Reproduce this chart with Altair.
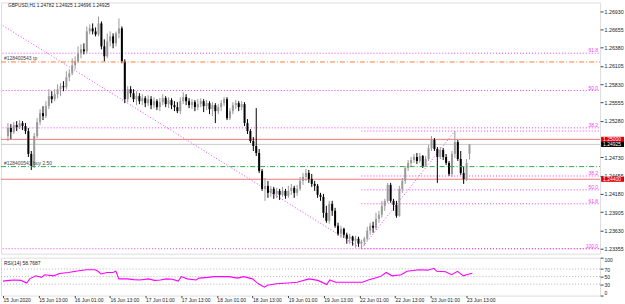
import altair as alt
import pandas as pd

title_text = "GBPUSD,H1  1.24782 1.24925 1.24696 1.24925"
rsi_text = "RSI(14) 58.7687"

opens = [
    1.25050, 1.25170, 1.25110, 1.25215, 1.25185, 1.25245, 1.25200, 1.25125, 1.24780, 1.24600,
    1.25050, 1.25260, 1.25395, 1.25350, 1.25500, 1.25650, 1.25605, 1.25680, 1.25755, 1.25800,
    1.25785, 1.25935, 1.25995, 1.26115, 1.26175, 1.26295, 1.26355, 1.26325, 1.26625, 1.26670,
    1.26625, 1.26580, 1.26745, 1.26400, 1.26250, 1.26475, 1.26550, 1.26445, 1.26595, 1.26670,
    1.26175, 1.25605, 1.25755, 1.25695, 1.25605, 1.25650, 1.25575, 1.25620, 1.25545, 1.25605,
    1.25515, 1.25575, 1.25485, 1.25560, 1.25620, 1.25530, 1.25590, 1.25515, 1.25485, 1.25425,
    1.25575, 1.25635, 1.25575, 1.25515, 1.25560, 1.25485, 1.25530, 1.25575, 1.25500, 1.25545,
    1.25455, 1.25515, 1.25425, 1.25485, 1.25545, 1.25605, 1.25320, 1.25425, 1.25515, 1.25545,
    1.25485, 1.25530, 1.25245, 1.25125, 1.24975, 1.24900, 1.24795, 1.24525, 1.24255, 1.24300,
    1.24195, 1.24255, 1.24180, 1.24225, 1.24165, 1.24225, 1.24150, 1.24225, 1.24270, 1.24195,
    1.24255, 1.24375, 1.24435, 1.24495, 1.24405, 1.24330, 1.24300, 1.24165, 1.24135, 1.23895,
    1.23775, 1.24030, 1.23925, 1.23700, 1.23580, 1.23655, 1.23565, 1.23505, 1.23535, 1.23475,
    1.23505, 1.23430, 1.23460, 1.23505, 1.23625, 1.23700, 1.23670, 1.23805, 1.23865, 1.24000,
    1.24075, 1.24315, 1.24075, 1.24015, 1.23850, 1.24255, 1.24375, 1.24570, 1.24645, 1.24690,
    1.24735, 1.24675, 1.24750, 1.24600, 1.24705, 1.24870, 1.24990, 1.24855, 1.24735, 1.24840,
    1.24735, 1.24645, 1.24480, 1.24780, 1.24960, 1.24705, 1.24495, 1.24405, 1.24782,
]
highs = [
    1.25245, 1.25230, 1.25260, 1.25275, 1.25290, 1.25275, 1.25245, 1.25170, 1.24825, 1.25095,
    1.25320, 1.25455, 1.25500, 1.25575, 1.25755, 1.25725, 1.25755, 1.25830, 1.25845, 1.25875,
    1.26025, 1.26055, 1.26220, 1.26250, 1.26400, 1.26430, 1.26445, 1.26700, 1.26730, 1.26745,
    1.26685, 1.26850, 1.26775, 1.26505, 1.26595, 1.26625, 1.26595, 1.26625, 1.26820, 1.26700,
    1.26205, 1.25800, 1.25800, 1.25755, 1.25725, 1.25695, 1.25680, 1.25650, 1.25665, 1.25650,
    1.25635, 1.25605, 1.25620, 1.25680, 1.25650, 1.25635, 1.25620, 1.25575, 1.25560, 1.25635,
    1.25710, 1.25680, 1.25620, 1.25605, 1.25590, 1.25605, 1.25620, 1.25605, 1.25590, 1.25575,
    1.25560, 1.25545, 1.25530, 1.25590, 1.25635, 1.25635, 1.25470, 1.25560, 1.25590, 1.25575,
    1.25575, 1.25560, 1.25305, 1.25155, 1.25035, 1.25470, 1.24855, 1.24555, 1.24420, 1.24375,
    1.24300, 1.24285, 1.24270, 1.24255, 1.24285, 1.24255, 1.24300, 1.24330, 1.24300, 1.24315,
    1.24435, 1.24495, 1.24555, 1.24540, 1.24480, 1.24375, 1.24330, 1.24195, 1.24180, 1.24000,
    1.24075, 1.24075, 1.23970, 1.23745, 1.23700, 1.23670, 1.23595, 1.23580, 1.23550, 1.23550,
    1.23535, 1.23490, 1.23535, 1.23685, 1.23745, 1.23760, 1.23895, 1.23925, 1.24075, 1.24105,
    1.24345, 1.24345, 1.24105, 1.24075, 1.24300, 1.24420, 1.24600, 1.24690, 1.24735, 1.24780,
    1.24795, 1.24795, 1.24765, 1.24750, 1.24915, 1.25050, 1.25020, 1.24885, 1.24885, 1.24870,
    1.24780, 1.24675, 1.24825, 1.25125, 1.24990, 1.24825, 1.24585, 1.24705, 1.24925,
]
lows = [
    1.24975, 1.25005, 1.25080, 1.25125, 1.25155, 1.25140, 1.25080, 1.24735, 1.24540, 1.24570,
    1.25020, 1.25215, 1.25290, 1.25320, 1.25455, 1.25545, 1.25575, 1.25620, 1.25650, 1.25725,
    1.25755, 1.25875, 1.25965, 1.26055, 1.26145, 1.26220, 1.26280, 1.26295, 1.26580, 1.26580,
    1.26550, 1.26550, 1.26355, 1.26175, 1.26220, 1.26400, 1.26370, 1.26400, 1.26520, 1.26145,
    1.25545, 1.25560, 1.25635, 1.25560, 1.25515, 1.25530, 1.25515, 1.25485, 1.25500, 1.25455,
    1.25470, 1.25440, 1.25425, 1.25515, 1.25485, 1.25470, 1.25455, 1.25425, 1.25395, 1.25380,
    1.25530, 1.25515, 1.25470, 1.25455, 1.25425, 1.25440, 1.25485, 1.25410, 1.25440, 1.25380,
    1.25350, 1.25245, 1.25380, 1.25425, 1.25500, 1.25290, 1.25290, 1.25380, 1.25455, 1.25425,
    1.25440, 1.25200, 1.25080, 1.24945, 1.24825, 1.24750, 1.24495, 1.24225, 1.24075, 1.24120,
    1.24135, 1.24105, 1.24120, 1.24090, 1.24135, 1.24105, 1.24120, 1.24165, 1.24120, 1.24150,
    1.24225, 1.24315, 1.24375, 1.24345, 1.24285, 1.24225, 1.24120, 1.24075, 1.23820, 1.23745,
    1.23730, 1.23850, 1.23670, 1.23550, 1.23520, 1.23520, 1.23430, 1.23430, 1.23400, 1.23370,
    1.23385, 1.23355, 1.23400, 1.23475, 1.23565, 1.23595, 1.23640, 1.23745, 1.23820, 1.23925,
    1.24045, 1.24045, 1.23925, 1.23820, 1.23835, 1.24195, 1.24330, 1.24525, 1.24585, 1.24645,
    1.24630, 1.24645, 1.24570, 1.24585, 1.24675, 1.24825, 1.24825, 1.24345, 1.24705, 1.24690,
    1.24615, 1.24450, 1.24435, 1.24720, 1.24675, 1.24465, 1.24330, 1.24375, 1.24696,
]
closes = [
    1.25170, 1.25110, 1.25215, 1.25185, 1.25245, 1.25200, 1.25125, 1.24780, 1.24600, 1.25050,
    1.25260, 1.25395, 1.25350, 1.25500, 1.25650, 1.25605, 1.25680, 1.25755, 1.25800, 1.25785,
    1.25935, 1.25995, 1.26115, 1.26175, 1.26295, 1.26355, 1.26325, 1.26625, 1.26670, 1.26625,
    1.26580, 1.26745, 1.26400, 1.26250, 1.26475, 1.26550, 1.26445, 1.26595, 1.26670, 1.26175,
    1.25605, 1.25755, 1.25695, 1.25605, 1.25650, 1.25575, 1.25620, 1.25545, 1.25605, 1.25515,
    1.25575, 1.25485, 1.25560, 1.25620, 1.25530, 1.25590, 1.25515, 1.25485, 1.25425, 1.25575,
    1.25635, 1.25575, 1.25515, 1.25560, 1.25485, 1.25530, 1.25575, 1.25500, 1.25545, 1.25455,
    1.25515, 1.25425, 1.25485, 1.25545, 1.25605, 1.25320, 1.25425, 1.25515, 1.25545, 1.25485,
    1.25530, 1.25245, 1.25125, 1.24975, 1.24900, 1.24795, 1.24525, 1.24255, 1.24300, 1.24195,
    1.24255, 1.24180, 1.24225, 1.24165, 1.24225, 1.24150, 1.24225, 1.24270, 1.24195, 1.24255,
    1.24375, 1.24435, 1.24495, 1.24405, 1.24330, 1.24300, 1.24165, 1.24135, 1.23895, 1.23775,
    1.24030, 1.23925, 1.23700, 1.23580, 1.23655, 1.23565, 1.23505, 1.23535, 1.23475, 1.23505,
    1.23430, 1.23460, 1.23505, 1.23625, 1.23700, 1.23670, 1.23805, 1.23865, 1.24000, 1.24075,
    1.24315, 1.24075, 1.24015, 1.23850, 1.24255, 1.24375, 1.24570, 1.24645, 1.24690, 1.24735,
    1.24675, 1.24750, 1.24600, 1.24705, 1.24870, 1.24990, 1.24855, 1.24735, 1.24840, 1.24735,
    1.24645, 1.24480, 1.24780, 1.24960, 1.24705, 1.24495, 1.24405, 1.24645, 1.24925,
]

time_tick_bars = [0, 12, 24, 36, 48, 60, 72, 84, 96, 108, 120, 132, 144, 156]
time_tick_labels = ["15 Jun 2020", "15 Jun 13:00", "16 Jun 01:00", "16 Jun 13:00",
                    "17 Jun 01:00", "17 Jun 13:00", "18 Jun 01:00", "18 Jun 13:00",
                    "19 Jun 01:00", "19 Jun 13:00", "22 Jun 01:00", "22 Jun 13:00",
                    "23 Jun 01:00", "23 Jun 13:00"]
# 1.25005 is hidden under the red 1.25000 price tag in the reference
price_ticks = [1.23355, 1.23630, 1.23905, 1.24180, 1.24455, 1.24730,
               1.25280, 1.25555, 1.25830, 1.26105, 1.26380, 1.26655, 1.26930]

rsi_bars = [0, 2, 4, 6, 8, 9, 11, 13, 14, 17, 19, 22, 25, 28, 31, 32, 33, 35, 37, 38,
            39, 42, 44, 46, 49, 51, 53, 55, 57, 59, 60, 62, 65, 66, 69, 71, 76, 79, 81, 84,
            86, 88, 89, 92, 96, 99, 103, 106, 109, 110, 112, 121, 123, 127, 129, 131, 134, 136, 140, 143,
            145, 146, 149, 151, 153, 155, 156, 158]
rsi_values = [38, 40, 41, 40, 33, 44, 52, 48, 55, 52, 58, 61, 65, 68, 68, 64, 57, 61, 61, 64,
              44, 44, 42, 41, 44, 40, 41, 44, 43, 38, 50, 44, 41, 46, 48, 50, 50, 46, 50, 44,
              31, 22, 27, 31, 33, 35, 44, 40, 29, 41, 35, 35, 41, 50, 61, 52, 55, 64, 68, 67,
              72, 64, 63, 55, 64, 52, 55, 58.77]
rsi_levels = [70, 50, 30]
rsi_ticks = [0, 30, 50, 70, 100]

# Fibonacci retracements (anchors)
fib1_high_bar, fib1_high = -53, 1.28115
fib1_low_bar, fib1_low = 121, 1.23355
fib1_ratios = [0.0, 38.2, 50.0, 61.8]
fib1_labels = ["", "38.2", "50.0", "61.8"]
fib2_low_bar, fib2_low = 121, 1.23355
fib2_high_bar, fib2_high = 153, 1.25125
fib2_ratios = [0.0, 38.2, 50.0, 61.8, 100.0]
fib2_labels = ["", "38.2", "50.0", "61.8", "100.0"]

tp_price, tp_label = 1.26165, "#128400543 tp"
buy_price, buy_label = 1.24590, "#128400543 buy 2.50"
red_levels = [1.25000, 1.24400]
bid_price = 1.24925
tag_prices = [1.25000, 1.24925, 1.24400]
tag_texts = ["1.25000", "1.24925", "1.24400"]
tag_colors = ["#e3000f", "#000000", "#e3000f"]

# ---------------------------------------------------------------
W, H, HR = 601, 252, 38
MAG = "#f040f0"
FONT = "Liberation Sans"

xsc = alt.Scale(domain=[-0.67, 201.0], nice=False, zero=False)
ysc = alt.Scale(domain=[1.23280, 1.27060], nice=False, zero=False)
yax = alt.Axis(orient="right", values=price_ticks, format=".5f", tickSize=3,
               labelFontSize=5.3, labelPadding=1, grid=False, domain=False,
               labelColor="#222", tickColor="#444", labelOverlap=False, title=None,
               labelFont=FONT)


def X(f="bar"):
    return alt.X(f"{f}:Q", scale=xsc, axis=None, title=None)


def Y(f):
    return alt.Y(f"{f}:Q", scale=ysc, axis=yax, title=None)


n = len(opens)
cdf = pd.DataFrame(dict(bar=list(range(n)), open=opens, high=highs, low=lows, close=closes))
cdf["dir"] = ["up" if c >= o else "down" for o, c in zip(opens, closes)]
col = alt.Color("dir:N", scale=alt.Scale(domain=["up", "down"], range=["#9a9a9a", "#000000"]),
                legend=None)

wicks = alt.Chart(cdf).mark_rule(strokeWidth=1).encode(x=X(), y=Y("low"), y2="high", color=col)
bodies = alt.Chart(cdf).mark_bar(size=2).encode(x=X(), y=Y("open"), y2="close", color=col)

f1 = pd.DataFrame({
    "price": [fib1_low + r / 100.0 * (fib1_high - fib1_low) for r in fib1_ratios],
    "start": [fib1_high_bar] * len(fib1_ratios),
    "label": fib1_labels,
})
f2 = pd.DataFrame({
    "price": [fib2_high - r / 100.0 * (fib2_high - fib2_low) for r in fib2_ratios],
    "start": [fib2_low_bar] * len(fib2_ratios),
    "label": fib2_labels,
})
fib_rules = [
    alt.Chart(d).mark_rule(color=MAG, strokeDash=[1, 2], strokeWidth=1, clip=True)
    .encode(x=X("start"), x2=alt.value(W), y=Y("price"))
    for d in (f1, f2)
]
fib_texts = [
    alt.Chart(d).mark_text(align="right", baseline="bottom", fontSize=5, color=MAG, font=FONT)
    .encode(x=alt.value(W - 2), y=Y("price"), text="label:N")
    for d in (f1, f2)
]
d1 = pd.DataFrame({"bar": [fib1_high_bar, fib1_low_bar], "price": [fib1_high, fib1_low]})
d2 = pd.DataFrame({"bar": [fib2_low_bar, fib2_high_bar], "price": [fib2_low, fib2_high]})
diags = [
    alt.Chart(d).mark_line(color=MAG, strokeDash=[1, 2], strokeWidth=1, clip=True)
    .encode(x=X(), y=Y("price"))
    for d in (d1, d2)
]

bid_line = alt.Chart(pd.DataFrame({"price": [bid_price]})).mark_rule(
    color="#c8c8c8", strokeWidth=1).encode(x=alt.value(0), x2=alt.value(W), y=Y("price"))
red_rules = alt.Chart(pd.DataFrame({"price": red_levels})).mark_rule(
    color="#f07878", strokeWidth=1).encode(x=alt.value(0), x2=alt.value(W), y=Y("price"))
tp_rule = alt.Chart(pd.DataFrame({"price": [tp_price]})).mark_rule(
    color="#ff7a3a", strokeWidth=1, strokeDash=[5, 2, 1, 2]).encode(
    x=alt.value(0), x2=alt.value(W), y=Y("price"))
buy_rule = alt.Chart(pd.DataFrame({"price": [buy_price]})).mark_rule(
    color="#2ea84a", strokeWidth=1, strokeDash=[5, 2, 1, 2]).encode(
    x=alt.value(0), x2=alt.value(W), y=Y("price"))
order_texts = alt.Chart(pd.DataFrame({"price": [tp_price, buy_price],
                                      "t": [tp_label, buy_label]})).mark_text(
    align="left", baseline="bottom", fontSize=5, color="#444", font=FONT, dy=-0.5).encode(
    x=alt.value(3), y=Y("price"), text="t:N")

title_layer = alt.Chart(pd.DataFrame({"t": [title_text]})).mark_text(
    align="left", baseline="middle", fontSize=4.8, color="#222", font=FONT).encode(
    x=alt.value(7), y=alt.value(3.5), text="t:N")

tags = []
for p, t, c in zip(tag_prices, tag_texts, tag_colors):
    dfp = pd.DataFrame({"price": [p], "t": [t]})
    tags.append(alt.Chart(dfp).mark_rect(color=c, clip=False, yOffset=-2.6, y2Offset=2.6).encode(
        x=alt.value(W + 1), x2=alt.value(W + 24), y=Y("price"), y2="price"))
    tags.append(alt.Chart(dfp).mark_text(align="left", baseline="middle", fontSize=5,
                                         color="white", font=FONT, clip=False).encode(
        x=alt.value(W + 3), y=Y("price"), text="t:N"))

main = alt.layer(
    bid_line, red_rules, *fib_rules, *diags, wicks, bodies, tp_rule, buy_rule,
    *fib_texts, order_texts, title_layer, *tags
).properties(width=W, height=H)

# ---------------- RSI panel ----------------
labels_js = "[" + ",".join(f"'{s}'" for s in time_tick_labels) + "]"
bars_js = "[" + ",".join(str(b) for b in time_tick_bars) + "]"
xax = alt.Axis(values=time_tick_bars, labelExpr=f"{labels_js}[indexof({bars_js}, datum.value)]",
               labelAlign="left", labelBaseline="top", labelFontSize=5, tickSize=2,
               labelPadding=0, grid=False,
               domain=False, labelOverlap=False, labelFlush=False, title=None,
               labelColor="#222", tickColor="#444", labelFont=FONT)
rsc = alt.Scale(domain=[0, 100], nice=False, zero=False)
ryax = alt.Axis(orient="right", values=rsi_ticks, tickSize=3, labelFontSize=5, labelPadding=1,
                grid=False, domain=False, labelFlush=True, labelOverlap=False, title=None,
                labelColor="#222", tickColor="#444", labelFont=FONT)


def RY(f):
    return alt.Y(f"{f}:Q", scale=rsc, axis=ryax, title=None)


rdf = pd.DataFrame({"bar": rsi_bars, "rsi": rsi_values})
lvl = alt.Chart(pd.DataFrame({"level": rsi_levels})).mark_rule(
    color="#b4b4b4", strokeDash=[1, 2], strokeWidth=1).encode(
    x=alt.value(0), x2=alt.value(W), y=RY("level"))
rline = alt.Chart(rdf).mark_line(color="#ff00ff", strokeWidth=1.1).encode(
    x=alt.X("bar:Q", scale=xsc, axis=xax, title=None), y=RY("rsi"))
rtxt = alt.Chart(pd.DataFrame({"t": [rsi_text]})).mark_text(
    align="left", baseline="middle", fontSize=5, color="#222", font=FONT).encode(
    x=alt.value(3), y=alt.value(5.5), text="t:N")
rsi = alt.layer(lvl, rline, rtxt).properties(width=W, height=HR)

chart = alt.vconcat(main, rsi, spacing=2).properties(
    padding={"left": 0, "top": 1, "right": 0, "bottom": 0}, background="white"
).configure_view(stroke="#6a6a6a", strokeWidth=1).configure(font=FONT)

chart.save("out.html", embed_options={"renderer": "svg", "actions": False})
